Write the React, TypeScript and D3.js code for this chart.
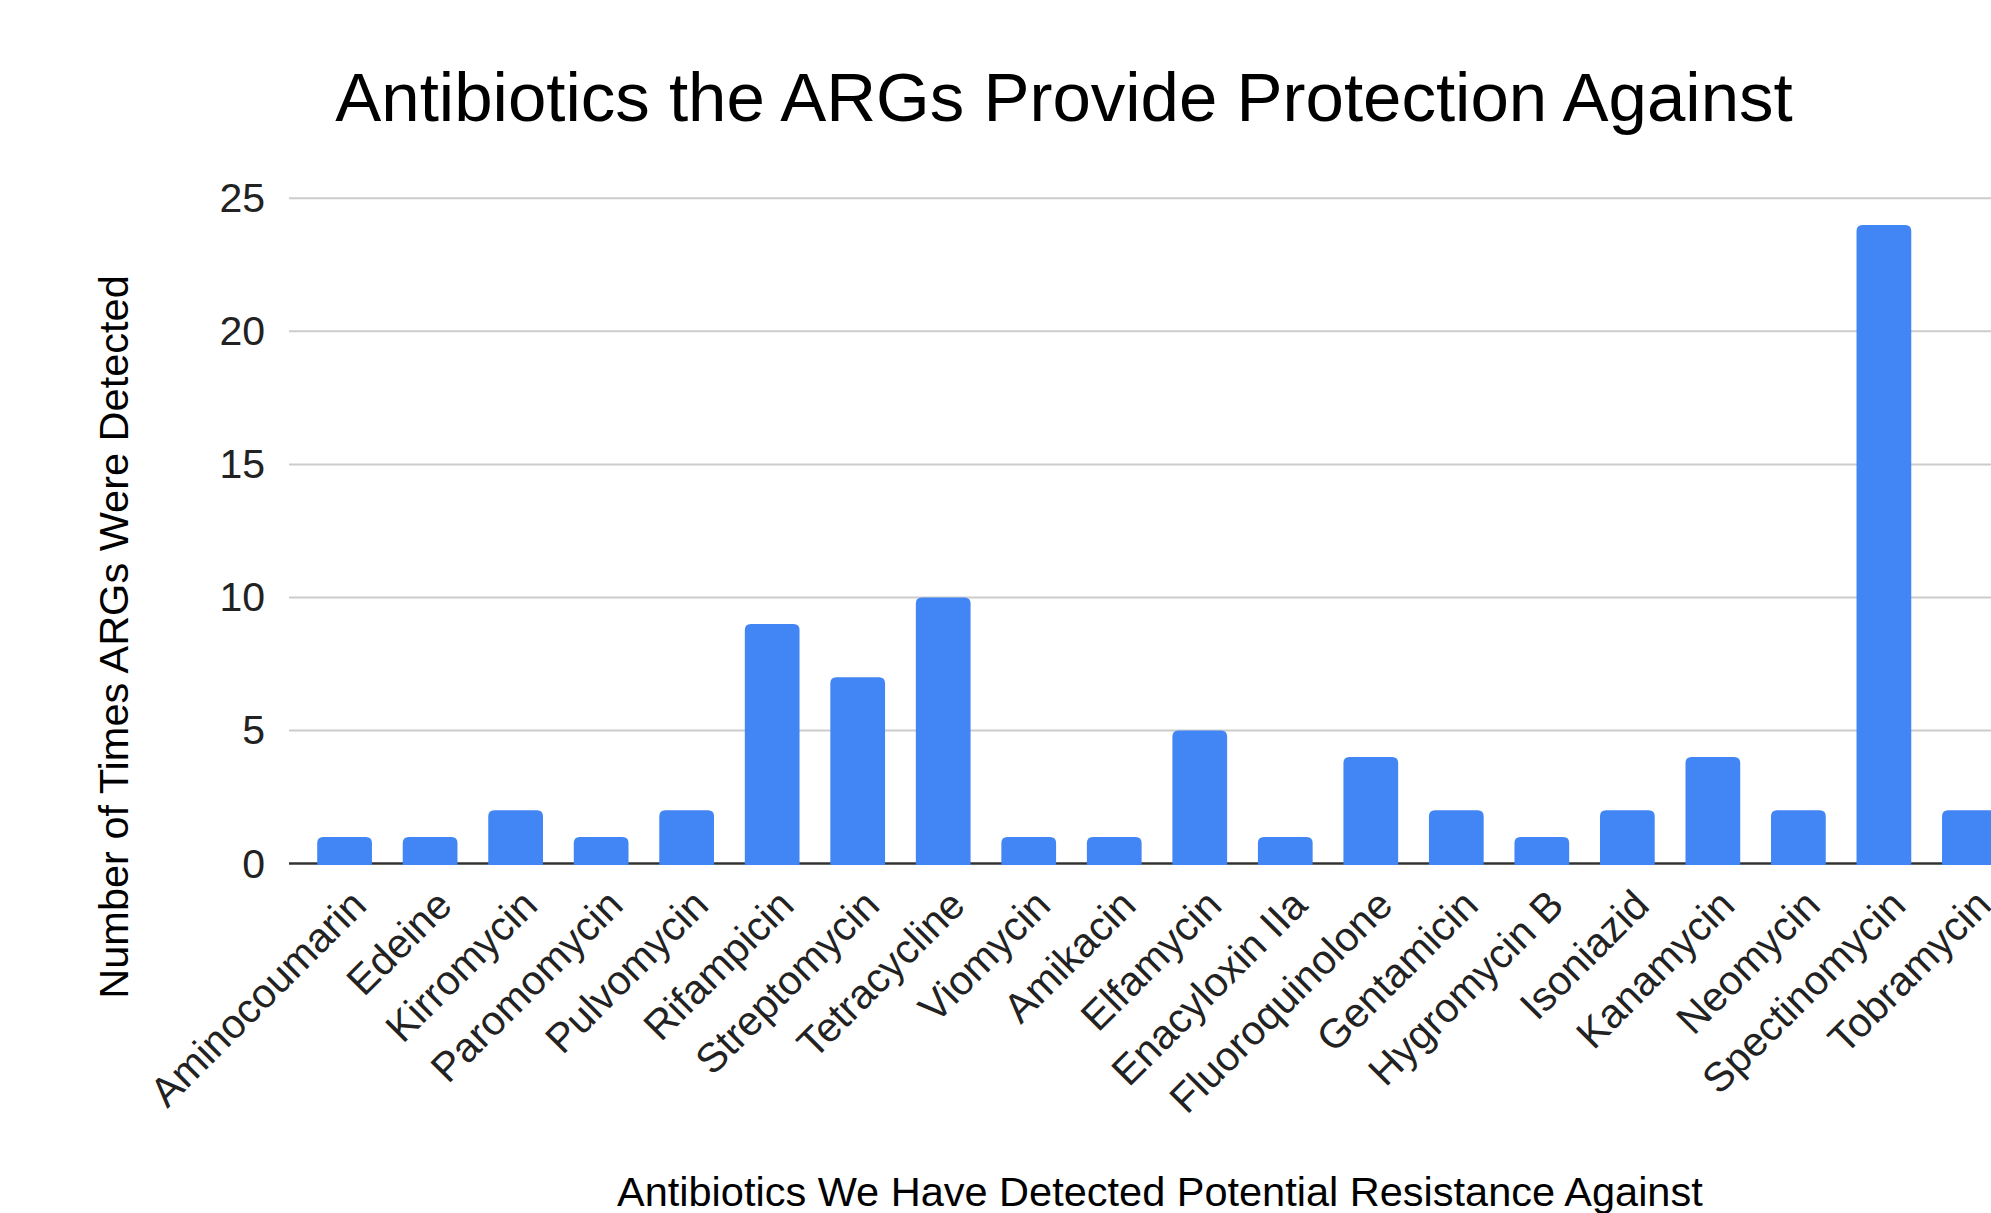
import React from 'react';
import * as d3 from 'd3';

const categories = [
  'Aminocoumarin', 'Edeine', 'Kirromycin', 'Paromomycin', 'Pulvomycin',
  'Rifampicin', 'Streptomycin', 'Tetracycline', 'Viomycin', 'Amikacin',
  'Elfamycin', 'Enacyloxin IIa', 'Fluoroquinolone', 'Gentamicin', 'Hygromycin B',
  'Isoniazid', 'Kanamycin', 'Neomycin', 'Spectinomycin', 'Tobramycin',
];
const counts = [1, 1, 2, 1, 2, 9, 7, 10, 1, 1, 5, 1, 4, 2, 1, 2, 4, 2, 24, 2];
const yTicks = [0, 5, 10, 15, 20, 25];
const chartTitle = 'Antibiotics the ARGs Provide Protection Against';
const xAxisTitle = 'Antibiotics We Have Detected Potential Resistance Against';
const yAxisTitle = 'Number of Times ARGs Were Detected';

const FONT = '"Liberation Sans", Arial, Helvetica, sans-serif';

export default function App() {
  const W = 1991;
  const H = 1213;
  const left = 289;
  const right = 2025;
  const top = 198.3;
  const bottom = 863.5;

  const x = d3.scaleBand<string>().domain(categories).range([left, right]).paddingInner(0.36).paddingOuter(0.33);
  const y = d3.scaleLinear().domain([0, 25]).range([bottom, top]);
  const bw = x.bandwidth();
  const r = 6;

  const barPath = (c: string, v: number) => {
    const x0 = x(c)!;
    const x1 = x0 + bw;
    const yt = y(v);
    const yb = y(0) + 1.5;
    const p = d3.path();
    p.moveTo(x0, yb);
    p.lineTo(x0, yt + r);
    p.quadraticCurveTo(x0, yt, x0 + r, yt);
    p.lineTo(x1 - r, yt);
    p.quadraticCurveTo(x1, yt, x1, yt + r);
    p.lineTo(x1, yb);
    p.closePath();
    return p.toString();
  };

  return (
    <svg width={W} height={H} style={{ position: 'absolute', left: 0, top: 0, background: '#fff' }} fontFamily={FONT}>
      <rect x={0} y={0} width={W} height={H} fill="#fff" />
      <text x={1064} y={121} fontSize={69} textAnchor="middle" fill="#000">{chartTitle}</text>
      {yTicks.filter(t => t !== 0).map(t => (
        <line key={'g' + t} x1={left} x2={W} y1={y(t)} y2={y(t)} stroke="#cccccc" strokeWidth={2} />
      ))}
      <line x1={left} x2={W} y1={y(0)} y2={y(0)} stroke="#333" strokeWidth={2.5} />
      {yTicks.map(t => (
        <text key={'t' + t} x={265} y={y(t)} fontSize={41} textAnchor="end" dominantBaseline="central" fill="#222">{t}</text>
      ))}
      {categories.map((c, i) => (
        <path key={c} d={barPath(c, counts[i])} fill="#4285F4" />
      ))}
      {categories.map(c => {
        const cx = x(c)! + bw / 2 + 24;
        const cy = y(0) + 44;
        return (
          <text key={'l' + c} transform={`translate(${cx},${cy}) rotate(-45)`} fontSize={41} textAnchor="end" fill="#222">{c}</text>
        );
      })}
      <text x={617} y={1206} fontSize={41.5} fill="#000">{xAxisTitle}</text>
      <text transform={`translate(128,637) rotate(-90)`} fontSize={41.5} textAnchor="middle" fill="#000">{yAxisTitle}</text>
    </svg>
  );
}
